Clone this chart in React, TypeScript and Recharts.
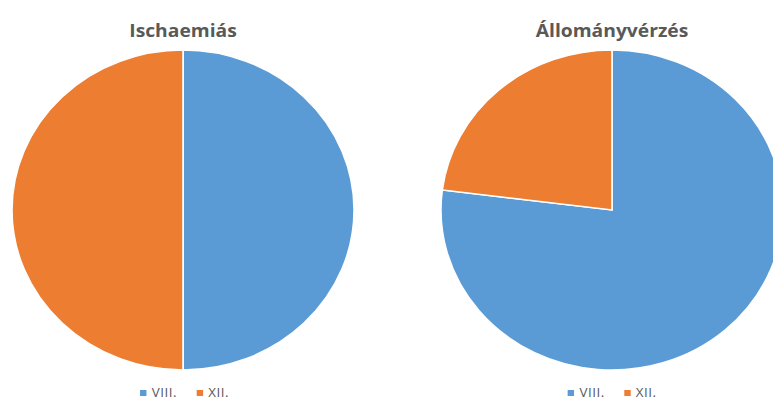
import React from "react";
import { PieChart, Pie, Cell } from "recharts";

const months = ["VIII.", "XII."];
const ischaemiasValues = [50, 50];
const allomanyverzesValues = [77, 23];
const colors = ["#5B9BD5", "#ED7D31"];

const ischaemiasData = months.map((name, i) => ({ name, value: ischaemiasValues[i] }));
const allomanyData = months.map((name, i) => ({ name, value: allomanyverzesValues[i] }));

// source image is stretched a little horizontally
const SX = 1.069;
const font = "'Open Sans', 'Liberation Sans', sans-serif";

function Legend({ left }: { left: number }) {
  return (
    <div
      style={{
        position: "absolute",
        left,
        top: 384,
        display: "flex",
        alignItems: "center",
        fontFamily: font,
        fontSize: 12.5,
        color: "#595959",
        whiteSpace: "nowrap",
        letterSpacing: 0.5,
      }}
    >
      {months.map((m, i) => (
        <span key={m} style={{ display: "flex", alignItems: "center", marginRight: 18 }}>
          <span style={{ width: 6, height: 6, background: colors[i], marginRight: 5, display: "inline-block" }} />
          {m}
        </span>
      ))}
    </div>
  );
}

function Title({ text, center }: { text: string; center: number }) {
  return (
    <div
      style={{
        position: "absolute",
        left: center - 150,
        width: 300,
        top: 18,
        textAlign: "center",
        fontFamily: font,
        fontWeight: 700,
        fontSize: 18,
        color: "#595959",
      }}
    >
      {text}
    </div>
  );
}

export default function App() {
  const c1 = 171.2;
  const c2 = 572.5;
  return (
    <div style={{ position: "absolute", left: 0, top: 0, width: 773, height: 405, overflow: "hidden", background: "#fff" }}>
      <div style={{ position: "relative", width: 723, height: 405, transform: `scaleX(${SX})`, transformOrigin: "0 0" }}>
        <PieChart
          width={760}
          height={405}
          margin={{ top: 0, right: 0, bottom: 0, left: 0 }}
          style={{ position: "absolute", left: 0, top: 0 }}
        >
          <Pie
            data={ischaemiasData}
            dataKey="value"
            cx={c1}
            cy={210}
            outerRadius={160}
            startAngle={90}
            endAngle={-270}
            stroke="#fff"
            strokeWidth={1.5}
            isAnimationActive={false}
          >
            {ischaemiasData.map((d, i) => (
              <Cell key={d.name} fill={colors[i]} />
            ))}
          </Pie>
          <Pie
            data={allomanyData}
            dataKey="value"
            cx={c2}
            cy={210}
            outerRadius={160}
            startAngle={90}
            endAngle={-270}
            stroke="#fff"
            strokeWidth={1.5}
            isAnimationActive={false}
          >
            {allomanyData.map((d, i) => (
              <Cell key={d.name} fill={colors[i]} />
            ))}
          </Pie>
        </PieChart>
        <Title text="Ischaemiás" center={c1} />
        <Title text="Állományvérzés" center={c2} />
        <Legend left={131} />
        <Legend left={531} />
      </div>
    </div>
  );
}
